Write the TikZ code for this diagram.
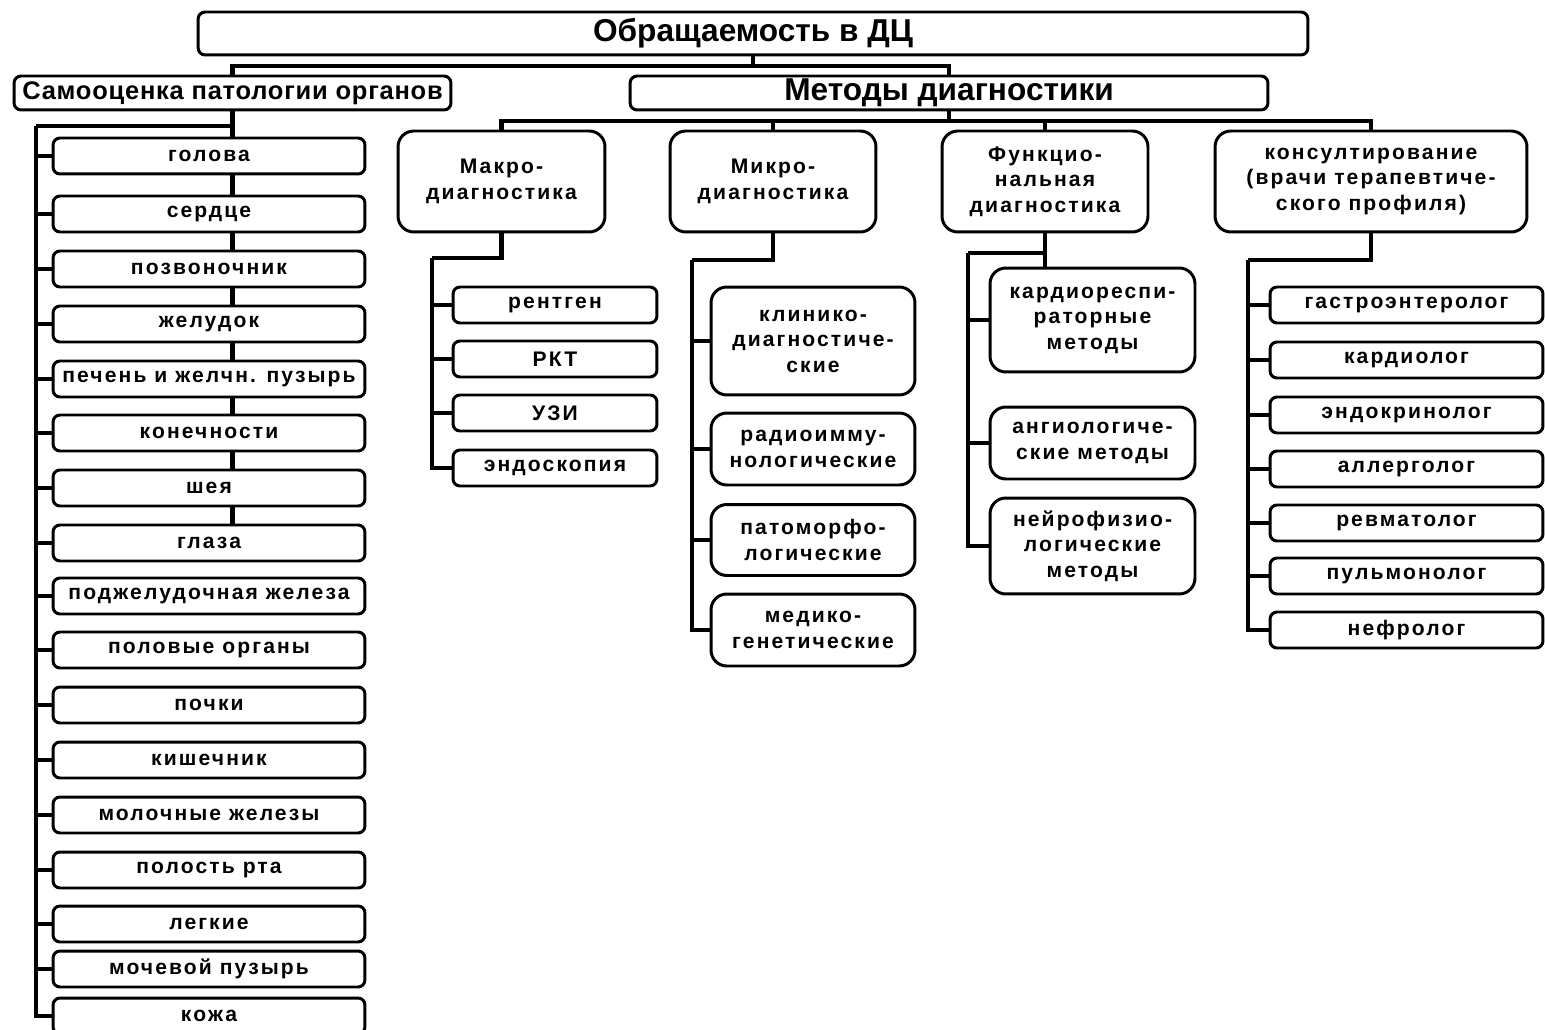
\documentclass[tikz,border=0pt]{standalone}
\usepackage{fontspec}
\setmainfont{Liberation Sans}
\newfontfamily\lsp[LetterSpace=10]{Liberation Sans}
\newfontfamily\lsq[LetterSpace=3]{Liberation Sans}
\usepackage{tikz}
\tikzstyle{bx}=[draw, line width=1.7pt, rounded corners=4pt, inner sep=0pt, align=center,
  font=\lsp\bfseries\fontsize{12}{14.5}\selectfont]
\tikzstyle{rb}=[bx, rounded corners=9pt]
\tikzstyle{org}=[bx, minimum width=6.24cm, minimum height=0.72cm]
\tikzstyle{mac}=[bx, minimum width=4.08cm, minimum height=0.72cm]
\tikzstyle{doc}=[bx, minimum width=5.46cm, minimum height=0.72cm]
\tikzstyle{ln}=[line width=2.3pt]

\begin{document}
\begin{tikzpicture}[x=0.02cm, y=-0.02cm]
            \useasboundingbox (0,0) rectangle (1545,1030);
            % top levels
            \node[bx, minimum width=22.2cm, minimum height=0.86cm, font=\bfseries\fontsize{18}{20}\selectfont] (T) at (753,33.5) {Обращаемость в ДЦ};
            \node[bx, minimum width=8.74cm, minimum height=0.68cm, font=\lsq\bfseries\fontsize{14.5}{16}\selectfont] (S) at (232.5,93) {Самооценка патологии органов};
            \node[bx, minimum width=12.76cm, minimum height=0.68cm, font=\bfseries\fontsize{18}{20}\selectfont] (M) at (949,93) {Методы диагностики};
            \coordinate (j0) at (753,66);
            \draw[ln] (T) -- (j0);
            \draw[ln] (j0) -| (S.north);
            \draw[ln] (j0) -| (M.north);

            % methods
            \node[rb, minimum width=4.14cm, minimum height=2.02cm] (D1) at (501.5,181.5) {Макро-\\диагностика};
            \node[rb, minimum width=4.12cm, minimum height=2.02cm] (D2) at (773,181.5) {Микро-\\диагностика};
            \node[rb, minimum width=4.12cm, minimum height=2.02cm] (D3) at (1045,181.5) {Функцио-\\нальная\\диагностика};
            \node[rb, minimum width=6.24cm, minimum height=2.02cm] (D4) at (1371,181.5) {консултирование\\(врачи терапевтиче-\\ского профиля)};
            \coordinate (j1) at (949,121);
            \draw[ln] (M) -- (j1);
            \draw[ln] (j1) -| (D1.north);
            \draw[ln] (j1) -| (D2.north);
            \draw[ln] (j1) -| (D3.north);
            \draw[ln] (j1) -| (D4.north);

            % self-assessment
            \node[org] (s1) at (209,156) {голова};
            \node[org] (s2) at (209,214) {сердце};
            \node[org] (s3) at (209,269) {позвоночник};
            \node[org] (s4) at (209,324) {желудок};
            \node[org] (s5) at (209,379) {печень и желчн. пузырь};
            \node[org] (s6) at (209,433) {конечности};
            \node[org] (s7) at (209,488) {шея};
            \node[org] (s8) at (209,543) {глаза};
            \node[org] (s9) at (209,596) {поджелудочная железа};
            \node[org] (s10) at (209,650) {половые органы};
            \node[org] (s11) at (209,705) {почки};
            \node[org] (s12) at (209,760) {кишечник};
            \node[org] (s13) at (209,815) {молочные железы};
            \node[org] (s14) at (209,870) {полость рта};
            \node[org] (s15) at (209,924) {легкие};
            \node[org] (s16) at (209,969) {мочевой пузырь};
            \node[org] (s17) at (209,1016) {кожа};
            \coordinate (sl) at (36,126);
            \draw[ln] (S.south) |- (sl);
            \draw[ln] (S.south) -- (s1.north -| S);
            \foreach \a/\b in {s1/s2,s2/s3,s3/s4,s4/s5,s5/s6,s6/s7,s7/s8}
                \draw[ln] (\a.south -| S) -- (\b.north -| S);
            \foreach \n in {s1,s2,s3,s4,s5,s6,s7,s8,s9,s10,s11,s12,s13,s14,s15,s16,s17}
                \draw[ln] (sl) |- (\n.west);

            % macro
            \node[mac] (m1) at (555,305) {рентген};
            \node[mac] (m2) at (555,359) {РКТ};
            \node[mac] (m3) at (555,413) {УЗИ};
            \node[mac] (m4) at (555,468) {эндоскопия};
            \coordinate (ml) at (432,258);
            \draw[ln] (D1.south) |- (ml);
            \foreach \n in {m1,m2,m3,m4}
                \draw[ln] (ml) |- (\n.west);

            % micro
            \node[rb, minimum width=4.08cm, minimum height=2.16cm] (k1) at (813,341) {клинико-\\диагностиче-\\ские};
            \node[rb, minimum width=4.08cm, minimum height=1.44cm] (k2) at (813,449) {радиоимму-\\нологические};
            \node[rb, minimum width=4.08cm, minimum height=1.42cm] (k3) at (813,540) {патоморфо-\\логические};
            \node[rb, minimum width=4.08cm, minimum height=1.44cm] (k4) at (813,630) {медико-\\генетические};
            \coordinate (kl) at (692,260);
            \draw[ln] (D2.south) |- (kl);
            \foreach \n in {k1,k2,k3,k4}
                \draw[ln] (kl) |- (\n.west);

            % functional
            \node[rb, minimum width=4.1cm, minimum height=2.08cm] (f1) at (1092.5,320) {кардиореспи-\\раторные\\методы};
            \node[rb, minimum width=4.1cm, minimum height=1.44cm] (f2) at (1092.5,443) {ангиологиче-\\ские методы};
            \node[rb, minimum width=4.1cm, minimum height=1.92cm] (f3) at (1092.5,546) {нейрофизио-\\логические\\методы};
            \coordinate (fl) at (968,253);
            \draw[ln] (D3.south) -- (D3.south |- f1.north);
            \draw[ln] (fl) -- (fl -| D3.south);
            \foreach \n in {f1,f2,f3}
                \draw[ln] (fl) |- (\n.west);

            % consulting
            \node[doc] (c1) at (1406.5,305) {гастроэнтеролог};
            \node[doc] (c2) at (1406.5,360) {кардиолог};
            \node[doc] (c3) at (1406.5,415) {эндокринолог};
            \node[doc] (c4) at (1406.5,469) {аллерголог};
            \node[doc] (c5) at (1406.5,523) {ревматолог};
            \node[doc] (c6) at (1406.5,576) {пульмонолог};
            \node[doc] (c7) at (1406.5,630) {нефролог};
            \coordinate (cl) at (1248,260);
            \draw[ln] (D4.south) |- (cl);
            \foreach \n in {c1,c2,c3,c4,c5,c6,c7}
                \draw[ln] (cl) |- (\n.west);
        \end{tikzpicture}
\end{document}
